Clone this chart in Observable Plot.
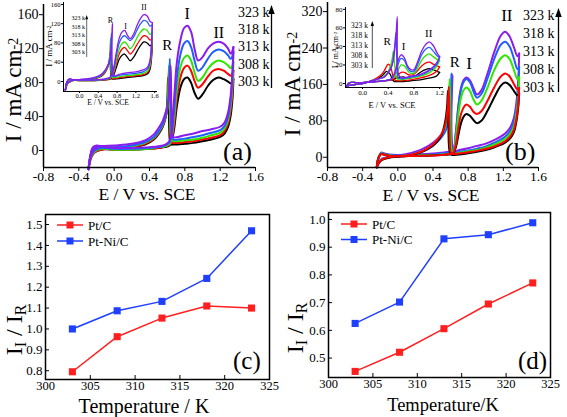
<!DOCTYPE html>
<html><head><meta charset="utf-8">
<script src="https://cdn.jsdelivr.net/npm/d3@7"></script>
<script src="https://cdn.jsdelivr.net/npm/@observablehq/plot@0.6"></script>
<style>
body{margin:0;background:#fff;}
#fig{position:relative;width:567px;height:417px;overflow:hidden;background:#fff;}
#fig svg{position:absolute;max-width:none;}
#fig svg text{font-family:"Liberation Serif","Times New Roman",serif !important;}
</style></head><body><div id="fig"></div>
<script>
// ---------- data ----------
const temps = ["303 k","308 k","313 k","318 k","323 k"];
const cvColors = ["#000000","#ff0000","#2ee600","#1f5fff","#8a1cf0"];

// panel (a) main
const aFwdE = [-0.29,-0.27,-0.24,-0.2,-0.1,0.0,0.2,0.4,0.5,0.58,0.63,0.67,0.71,0.75,0.79,0.83,0.87,0.91,0.95,1.0,1.06,1.12,1.18,1.24,1.29,1.32,1.35];
const aFwd303 = [-22,-8,1,3,2,1,1,2,3,4,6,20,52,74,84,86,80,68,61,66,76,83,86,84,81,79,84];
const aFwd308 = [-22,-8,2,3,2,1,1,2,3,5,7,24,62,86,97,100,94,82,74,78,87,94,96,94,90,88,94];
const aFwd313 = [-22,-7,2,4,2,1,1,2,4,5,8,30,72,98,109,112,106,92,82,86,96,103,106,104,100,97,104];
const aFwd318 = [-22,-7,3,5,3,2,2,3,4,6,10,38,86,113,126,129,122,106,94,98,108,116,119,117,112,108,116];
const aFwd323 = [-22,-6,4,6,4,3,3,4,5,7,12,50,104,130,144,147,140,120,106,110,120,126,128,126,120,114,122];
const aRevE = [1.35,1.34,1.32,1.29,1.25,1.2,1.1,1.0,0.9,0.8,0.72,0.67,0.65,0.64,0.63,0.62,0.61,0.6,0.58,0.55,0.5,0.45,0.35,0.2,0.0,-0.15,-0.22,-0.26,-0.29];
const aRev303 = [84,62,42,28,20,16,13,11,9,8,7,7,7,8,12,40,86,55,38,28,19,13,7,4,2,1,-2,-8,-22];
const aRev308 = [94,70,48,32,23,18,15,13,11,10,9,9,9,12,40,95,60,48,38,29,20,14,8,4,2,1,-2,-8,-22];
const aRev313 = [104,78,54,36,26,21,18,15,13,12,11,11,12,20,60,100,62,50,40,30,21,15,9,5,3,2,-1,-7,-22];
const aRev318 = [116,88,60,40,29,24,21,18,16,14,13,13,20,60,108,70,55,48,40,31,22,16,10,6,4,3,0,-6,-22];
const aRev323 = [122,95,66,45,33,28,25,23,20,18,16,16,40,100,85,65,55,50,44,35,26,19,12,8,6,5,2,-5,-22];

// panel (a) inset
const iaFwdE = [-0.3,-0.27,-0.22,-0.15,0.0,0.3,0.5,0.65,0.72,0.78,0.84,0.9,0.96,1.02,1.08,1.15,1.22,1.3,1.37,1.44,1.5,1.55];
const iaFwd303 = [-18,-2,4,3,2,2,3,5,12,28,45,54,57,50,43,50,62,75,82,80,74,78];
const iaFwd308 = [-18,-2,4,3,2,2,3,6,15,35,56,67,71,64,57,64,76,88,95,93,86,90];
const iaFwd313 = [-18,-2,4,3,2,2,4,7,18,42,66,78,82,76,68,76,90,103,109,106,98,102];
const iaFwd318 = [-18,-1,5,4,3,3,4,8,22,52,78,91,95,90,85,92,106,120,127,124,115,118];
const iaFwd323 = [-18,-1,5,4,3,3,5,9,25,58,88,102,106,96,89,98,115,131,139,136,125,122];
const iaRevE = [1.55,1.53,1.5,1.45,1.35,1.2,1.0,0.85,0.74,0.7,0.68,0.66,0.65,0.63,0.6,0.55,0.48,0.4,0.25,0.0,-0.15,-0.25,-0.3];
const iaRev303 = [78,45,25,16,12,10,8,6,5,5,6,25,60,40,30,20,12,8,5,3,2,-4,-18];
const iaRev308 = [90,52,30,19,14,12,10,8,6,6,10,78,50,38,30,20,13,9,5,3,2,-4,-18];
const iaRev313 = [102,60,34,22,17,14,12,10,8,8,14,90,55,42,32,22,14,9,6,3,2,-4,-18];
const iaRev318 = [118,70,40,26,20,17,15,13,10,12,100,60,48,40,32,23,15,10,6,4,3,-3,-18];
const iaRev323 = [122,75,44,30,24,20,18,15,12,120,70,55,48,40,33,24,16,11,7,4,3,-3,-18];

// panel (b) main
const bFwdE = [-0.24,-0.22,-0.19,-0.16,-0.1,0.0,0.2,0.4,0.5,0.58,0.63,0.66,0.69,0.72,0.75,0.78,0.82,0.86,0.9,0.95,1.02,1.1,1.17,1.22,1.27,1.32,1.36,1.38];
const bFwd303 = [-22,-2,7,6,3,2,3,4,5,6,8,22,50,76,90,95,91,82,75,80,102,133,157,164,159,146,136,140];
const bFwd308 = [-22,-2,7,6,3,2,3,4,5,7,10,28,66,96,110,116,111,100,95,101,124,155,177,184,178,161,149,152];
const bFwd313 = [-22,-1,8,7,4,3,4,5,6,8,12,42,96,132,148,153,146,127,116,124,153,193,217,224,216,192,172,176];
const bFwd318 = [-22,-1,9,8,5,4,5,6,8,10,14,52,112,150,166,172,165,145,131,139,173,218,247,254,244,217,194,198];
const bFwd323 = [-22,0,10,9,6,5,6,8,10,12,16,56,116,154,170,175,169,152,138,147,184,233,267,276,266,242,222,228];
const bRevE = [1.38,1.37,1.35,1.32,1.28,1.22,1.1,1.0,0.9,0.8,0.7,0.64,0.62,0.61,0.6,0.59,0.58,0.57,0.56,0.54,0.5,0.45,0.4,0.3,0.2,0.1,0.0,-0.1,-0.18,-0.22,-0.24];
const bRev303 = [140,110,80,55,42,32,22,16,12,9,6,5,5,6,8,12,30,146,110,80,50,35,26,14,7,3,1,-1,-6,-14,-22];
const bRev308 = [152,118,86,60,46,35,24,18,14,11,8,7,7,8,12,40,155,118,95,72,52,38,28,15,8,4,2,0,-5,-13,-22];
const bRev313 = [176,135,98,68,52,40,28,21,16,13,10,8,9,14,60,172,125,100,85,68,50,37,27,15,8,4,2,0,-5,-13,-22];
const bRev318 = [198,150,108,76,58,45,32,24,19,15,12,10,14,184,120,100,88,78,68,57,45,34,25,14,8,4,2,0,-4,-12,-22];
const bRev323 = [228,170,122,86,66,52,38,30,25,20,16,14,180,130,110,96,86,78,70,60,50,40,32,20,12,7,4,1,-3,-12,-22];

// panel (b) inset
const ibFwdE = [-0.25,-0.2,-0.1,0.0,0.2,0.35,0.45,0.5,0.55,0.6,0.65,0.7,0.75,0.8,0.86,0.92,0.98,1.04,1.1,1.16,1.2];
const ibFwd303 = [-3,1,1,1,2,3,4,5,6,7,7,6,6,7,10,13,15,16,15,13,12];
const ibFwd308 = [-3,1,1,1,2,3,4,6,9,12,12,10,9,10,14,19,22,23,21,19,18];
const ibFwd313 = [-3,1,1,1,2,3,5,8,14,20,19,14,11,11,17,25,30,32,29,26,25];
const ibFwd318 = [-3,1,1,1,2,3,5,10,20,27,25,17,13,13,21,31,37,39,35,30,28];
const ibFwd323 = [-3,1,1,1,2,3,5,12,24,31,28,19,15,15,24,35,42,45,41,33,29];
const ibRevE = [1.2,1.15,1.05,0.9,0.75,0.6,0.56,0.54,0.52,0.5,0.48,0.46,0.43,0.4,0.37,0.34,0.3,0.2,0.1,0.0,-0.1,-0.2,-0.25];
const ibRev303 = [12,8,6,4,3,2,2,2,2,2,3,5,10,12,13,11,8,4,2,0,-1,-2,-3];
const ibRev308 = [18,13,9,6,4,3,3,3,3,4,5,12,19,21,18,14,10,5,2,0,-1,-2,-3];
const ibRev313 = [25,18,12,8,6,4,4,5,8,20,35,26,18,13,10,8,6,4,2,0,-1,-2,-3];
const ibRev318 = [28,20,14,9,7,5,6,15,55,40,28,20,15,12,9,7,6,4,2,0,-1,-2,-3];
const ibRev323 = [29,22,15,10,8,6,10,72,50,36,26,20,15,12,9,7,6,4,2,0,-1,-2,-3];

// CV annotations (label centres in data units)
const aNotes = [{E:0.6,I:124,t:"R",s:15},{E:0.827,I:161,t:"I",s:16},{E:1.185,I:139,t:"II",s:16}];
const iaNotes = [{E:0.66,I:127,t:"R",s:8},{E:0.98,I:115,t:"I",s:8},{E:1.37,I:153,t:"II",s:8}];
const bNotes = [{E:0.647,I:209,t:"R",s:15},{E:0.81,I:205,t:"I",s:17},{E:1.24,I:311,t:"II",s:17}];
const ibNotes = [{E:0.385,I:45,t:"R",s:11},{E:0.64,I:40,t:"I",s:11},{E:1.03,I:54.5,t:"II",s:11}];

// ticks
const mainXTicks = [-0.8,-0.4,0.0,0.4,0.8,1.2,1.6];
const aYTicks = [0,40,80,120,160];
const bYTicks = [0,80,160,240,320];
const iaXTicks = [0.0,0.4,0.8,1.2,1.6];
const iaYTicks = [0,40,80,120,160];
const ibXTicks = [0.0,0.4,0.8,1.2];
const ibYTicks = [0,20,40,60,80];

// panels (c) and (d)
const tempK = [303,308,313,318,323];
const seriesNames = ["Pt/C","Pt-Ni/C"];
const seriesColors = ["#ff1f1f","#1f3fff"];
const cPtC = [0.795,0.963,1.052,1.110,1.100];
const cPtNiC = [1.000,1.087,1.132,1.242,1.470];
const dPtC = [0.452,0.521,0.606,0.695,0.771];
const dPtNiC = [0.625,0.702,0.930,0.945,0.988];
const tXTicks = [300,305,310,315,320,325];
const cYTicks = [0.8,0.9,1.0,1.1,1.2,1.3,1.4,1.5];
const dYTicks = [0.5,0.6,0.7,0.8,0.9,1.0];

// ---------- drawing ----------
const fontFam = '"Liberation Serif","Times New Roman",serif';
const fig = document.getElementById("fig");
const fmt1 = d => d.toFixed(1);

function place(svg, left, top) {
  svg.style.left = left + "px";
  svg.style.top = top + "px";
  fig.appendChild(svg);
}
function cvLines(fE, fS, rE, rS, order, sw) {
  return order.map(k => {
    const rows = fE.map((E, i) => ({E, I: fS[k][i], z: "f"}))
      .concat(rE.map((E, i) => ({E, I: rS[k][i], z: "r"})));
    return Plot.line(rows, {x: "E", y: "I", z: "z", stroke: cvColors[k], strokeWidth: sw, curve: "catmull-rom"});
  });
}
function baseStyle(fs) {
  return {fontFamily: fontFam, fontSize: fs + "px", background: "transparent", overflow: "visible", color: "#000"};
}

// (a) main
place(Plot.plot({
  width: 285, height: 205, marginLeft: 43, marginRight: 30, marginTop: 4, marginBottom: 38,
  x: {domain: [-0.8, 1.6]}, y: {domain: [-20, 172]},
  style: baseStyle(14),
  marks: [
    ...cvLines(aFwdE, [aFwd303,aFwd308,aFwd313,aFwd318,aFwd323], aRevE, [aRev303,aRev308,aRev313,aRev318,aRev323], [0,1,2,3,4], 2),
    Plot.ruleX([-0.8], {strokeWidth: 1.5}),
    Plot.ruleY([-20], {strokeWidth: 1.5}),
    Plot.axisX({ticks: mainXTicks, tickFormat: fmt1, tickSize: 4, tickPadding: 0, fontSize: 13.5, label: null}),
    Plot.axisY({ticks: aYTicks, tickSize: 4, tickPadding: 1, label: null}),
    Plot.text(aNotes, {x: "E", y: "I", text: "t", fontSize: "s"})
  ]
}), 0, 0);

// (a) inset
place(Plot.plot({
  width: 135, height: 110, marginLeft: 33, marginRight: 8, marginTop: 2, marginBottom: 19,
  x: {domain: [-0.34, 1.66]}, y: {domain: [-20.8, 164]},
  style: baseStyle(6.5),
  marks: [
    ...cvLines(iaFwdE, [iaFwd303,iaFwd308,iaFwd313,iaFwd318,iaFwd323], iaRevE, [iaRev303,iaRev308,iaRev313,iaRev318,iaRev323], [0,1,2,3,4], 1.3),
    Plot.ruleX([-0.34], {strokeWidth: 1}),
    Plot.ruleY([-20.8], {strokeWidth: 1}),
    Plot.axisX({ticks: iaXTicks, tickFormat: fmt1, tickSize: 2, tickPadding: 0, label: null}),
    Plot.axisY({ticks: iaYTicks, tickSize: 2, tickPadding: 1, label: null}),
    Plot.text(iaNotes, {x: "E", y: "I", text: "t", fontSize: "s"})
  ]
}), 30, 0);

// (b) main
place(Plot.plot({
  width: 282, height: 205, marginLeft: 42, marginRight: 29, marginTop: 2, marginBottom: 38,
  x: {domain: [-0.8, 1.6]}, y: {domain: [-22.5, 340]},
  style: baseStyle(14),
  marks: [
    ...cvLines(bFwdE, [bFwd303,bFwd308,bFwd313,bFwd318,bFwd323], bRevE, [bRev303,bRev308,bRev313,bRev318,bRev323], [4,3,2,0,1], 2),
    Plot.ruleX([-0.8], {strokeWidth: 1.5}),
    Plot.ruleY([-22.5], {strokeWidth: 1.5}),
    Plot.axisX({ticks: mainXTicks, tickFormat: fmt1, tickSize: 4, tickPadding: 0, fontSize: 13.5, label: null}),
    Plot.axisY({ticks: bYTicks, tickSize: 4, tickPadding: 1, label: null}),
    Plot.text(bNotes, {x: "E", y: "I", text: "t", fontSize: "s"})
  ]
}), 285, 0);

// (b) inset
place(Plot.plot({
  width: 140, height: 112, marginLeft: 30, marginRight: 12, marginTop: 7, marginBottom: 25,
  x: {domain: [-0.265, 1.26]}, y: {domain: [-4.3, 82]},
  style: baseStyle(7),
  marks: [
    ...cvLines(ibFwdE, [ibFwd303,ibFwd308,ibFwd313,ibFwd318,ibFwd323], ibRevE, [ibRev303,ibRev308,ibRev313,ibRev318,ibRev323], [0,1,2,3,4], 1.3),
    Plot.ruleX([-0.265], {strokeWidth: 1}),
    Plot.ruleY([-4.3], {strokeWidth: 1}),
    Plot.axisX({ticks: ibXTicks, tickFormat: fmt1, tickSize: 2, tickPadding: 1, label: null}),
    Plot.axisY({ticks: ibYTicks, tickSize: 2, tickPadding: 1, label: null}),
    Plot.text(ibNotes, {x: "E", y: "I", text: "t", fontSize: "s"})
  ]
}), 315, 0);

// (c) and (d)
function ratioPlot(a, b, yDom, yTicks, w, ml, mr, mt, mb) {
  const rowsA = tempK.map((T, i) => ({T, v: a[i]}));
  const rowsB = tempK.map((T, i) => ({T, v: b[i]}));
  return Plot.plot({
    width: w, height: 212, marginLeft: ml, marginRight: mr, marginTop: mt, marginBottom: mb,
    x: {domain: [300, 325]}, y: {domain: yDom},
    style: baseStyle(13),
    marks: [
      Plot.frame({strokeWidth: 1.5}),
      Plot.axisX({ticks: tXTicks, tickSize: -4, tickPadding: 6, fontSize: 12.5, label: null}),
      Plot.axisY({ticks: yTicks, tickFormat: fmt1, tickSize: -4, tickPadding: 7, label: null}),
      Plot.line(rowsA, {x: "T", y: "v", stroke: seriesColors[0], strokeWidth: 1.5}),
      Plot.line(rowsB, {x: "T", y: "v", stroke: seriesColors[1], strokeWidth: 1.5}),
      Plot.dot(rowsA, {x: "T", y: "v", symbol: "square", r: 4, fill: seriesColors[0]}),
      Plot.dot(rowsB, {x: "T", y: "v", symbol: "square", r: 4, fill: seriesColors[1]})
    ]
  });
}
place(ratioPlot(cPtC, cPtNiC, [0.758, 1.548], cYTicks, 285, 45, 16, 9, 38), 0, 205);
place(ratioPlot(dPtC, dPtNiC, [0.43, 1.025], dYTicks, 282, 43, 17, 7, 40), 285, 205);

// ---------- overlay text: labels, legends, arrows ----------
const ov = d3.select(fig).append("svg")
  .attr("width", 567).attr("height", 417)
  .style("left", "0px").style("top", "0px")
  .style("font-family", fontFam).style("pointer-events", "none");

function rich(x, y, parts, size, anchor, rot) {
  const t = ov.append("text").attr("font-size", size).attr("text-anchor", anchor || "start").attr("fill", "#000");
  if (rot) t.attr("transform", `translate(${x},${y}) rotate(${rot})`);
  else t.attr("x", x).attr("y", y);
  let shift = 0;
  for (const p of parts) {
    const s = t.append("tspan").text(p.t);
    const target = p.dy || 0;
    if (target !== shift) { s.attr("dy", target - shift); shift = target; }
    if (p.s) s.attr("font-size", p.s);
  }
  return t;
}
function arrow(x, y1, y2, w) {
  ov.append("line").attr("x1", x).attr("x2", x).attr("y1", y1).attr("y2", y2 + 4).attr("stroke", "#000").attr("stroke-width", w);
  ov.append("path").attr("d", `M${x},${y2} L${x - 2.5 * w},${y2 + 7 * w} L${x + 2.5 * w},${y2 + 7 * w} Z`).attr("fill", "#000");
}

// axis titles
const yUnit = (s, ss) => [{t: "I / mA cm", s}, {t: "-2", s: ss, dy: -s * 0.1}];
rich(20.5, 90, yUnit(23, 14), 23, "middle", -90);
rich(299.5, 84, yUnit(23, 14), 23, "middle", -90);
rich(147, 200, [{t: "E / V vs. SCE"}], 17.5, "middle");
rich(431, 201, [{t: "E / V vs. SCE"}], 17.5, "middle");
rich(52, 46, yUnit(9, 6), 9, "middle", -90);
rich(338, 50, yUnit(8, 5), 8, "middle", -90);
rich(108, 105, [{t: "E / V vs. SCE"}], 7.5, "middle");
rich(392, 108, [{t: "E / V vs. SCE"}], 8.5, "middle");
const ratioLabel = [{t: "I"}, {t: "I", s: 16, dy: 4}, {t: "   /   I", dy: 0}, {t: "R", s: 16, dy: 4}];
rich(21.5, 330, ratioLabel, 24, "middle", -90);
rich(302.5, 328, ratioLabel, 24, "middle", -90);
rich(144, 412.5, [{t: "Temperature / K"}], 20, "middle");
rich(443, 411, [{t: "Temperature/K"}], 18.5, "middle");

// panel letters
rich(223, 160, [{t: "(a)"}], 26);
rich(505, 160, [{t: "(b)"}], 26);
rich(233, 368.5, [{t: "(c)"}], 25);
rich(518, 368.5, [{t: "(d)"}], 25);

// temperature legends (top to bottom: 323 k ... 303 k)
const legOrder = [4, 3, 2, 1, 0];
legOrder.forEach((k, j) => {
  rich(238, 16.7 + j * 17.3, [{t: temps[k]}], 14);
  rich(523, 20 + j * 18, [{t: temps[k]}], 14);
  rich(71.5, 20.3 + j * 8.5, [{t: temps[k]}], 6);
  rich(351, 27.7 + j * 10, [{t: temps[k]}], 7.5);
});
arrow(271.5, 88, 5, 1.3);
arrow(558.5, 92, 8, 1.3);
arrow(86.7, 57, 15, 0.6);
arrow(372.3, 68, 21, 0.7);

// series legends for (c) and (d)
function seriesLegend(x0, y0, dy) {
  seriesNames.forEach((name, i) => {
    const y = y0 + i * dy;
    ov.append("line").attr("x1", x0).attr("x2", x0 + 26).attr("y1", y).attr("y2", y).attr("stroke", seriesColors[i]).attr("stroke-width", 1.5);
    ov.append("rect").attr("x", x0 + 13 - 3.5).attr("y", y - 3.5).attr("width", 7).attr("height", 7).attr("fill", seriesColors[i]);
    rich(x0 + 31, y + 4.5, [{t: name}], 13);
  });
}
seriesLegend(57, 225, 16);
seriesLegend(341, 224, 15.5);
</script></body></html>
